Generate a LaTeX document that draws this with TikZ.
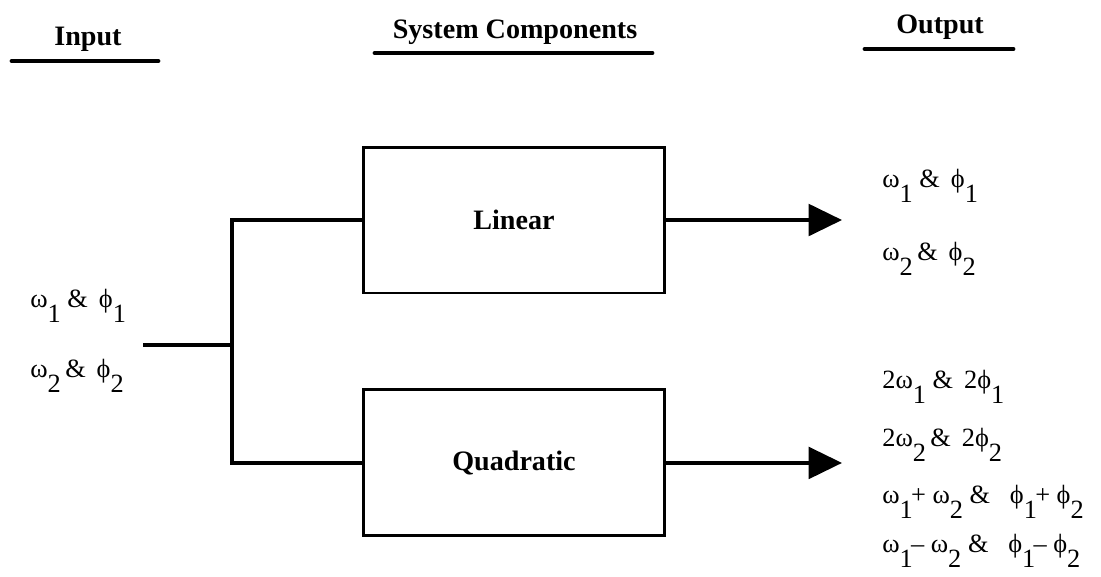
\documentclass[tikz,border=0pt]{standalone}
\usepackage{fontspec}
\setmainfont{Liberation Serif}
\usetikzlibrary{arrows.meta,positioning}
\newcommand{\dn}[1]{\raisebox{-0.6em}{#1}}
\tikzset{
    %Define standard arrow tip
    >={Triangle[length=19pt,width=18pt]},
    %Define style for headings
    heading/.style={
           font=\fontsize{16}{18}\selectfont\bfseries,
           inner sep=0pt,
           anchor=base},
    rule/.style={line width=2.8pt, line cap=round},
    %Define style for boxes
    block/.style={
           rectangle,
           draw=black, line width=1.7pt,
           minimum width=6.04cm,
           minimum height=2.92cm,
           font=\fontsize{16}{18}\selectfont\bfseries,
           text centered},
    freq/.style={
           font=\fontsize{15}{18}\selectfont,
           inner sep=0pt,
           anchor=base west},
    % Define line styles
    wire/.style={line width=2pt},
    pil/.style={wire, ->}
}
\begin{document}
\begin{tikzpicture}[x=0.02cm,y=-0.02cm]
\useasboundingbox (0,0) rectangle (1101,576);
% headings
\node[heading] (hIn) at (88,45) {Input};
\node[heading] (hSys) at (515,38) {System Components};
\node[heading] (hOut) at (940,33) {Output};
\draw[rule] (12,61) -- (158,61);
\draw[rule] (375,53) -- (652,53);
\draw[rule] (865,49) -- (1013,49);
% components
\node[block] (lin) at (514,220) {Linear};
\node[block, below=1.88cm of lin] (quad) {Quadratic};
% input
\node[freq] (in1) at (30,307) {ω\dn{1} \& \,ϕ\dn{1}};
\node[freq] (in2) at (30,377) {ω\dn{2}\,\& \,ϕ\dn{2}};
\coordinate (src) at (143,345);
\coordinate (split) at (232,345);
\draw[wire] (src) -- (split);
\draw[wire, line join=miter] (lin.west) -| (split) |- (quad.west);
% output
\coordinate (tipL) at (842,0 |- lin.east);
\coordinate (tipQ) at (842,0 |- quad.east);
\draw[pil] (lin.east) -- (tipL);
\draw[pil] (quad.east) -- (tipQ);
\node[freq] (o1) at (882,187) {ω\dn{1} \& \,ϕ\dn{1}};
\node[freq] (o2) at (882,260) {ω\dn{2}\,\& \,ϕ\dn{2}};
\node[freq] (o3) at (882,388) {2ω\dn{1} \& \,2ϕ\dn{1}};
\node[freq] (o4) at (882,446) {2ω\dn{2}\,\& \,2ϕ\dn{2}};
\node[freq] (o5) at (882,503) {ω\dn{1}\kern-1pt+ ω\dn{2} \& \ \ ϕ\dn{1}\kern-1pt+ ϕ\dn{2}};
\node[freq] (o6) at (882,552) {ω\dn{1}\kern-1pt– ω\dn{2} \& \ \ ϕ\dn{1}\kern-1pt– ϕ\dn{2}};
\end{tikzpicture}
\end{document}
